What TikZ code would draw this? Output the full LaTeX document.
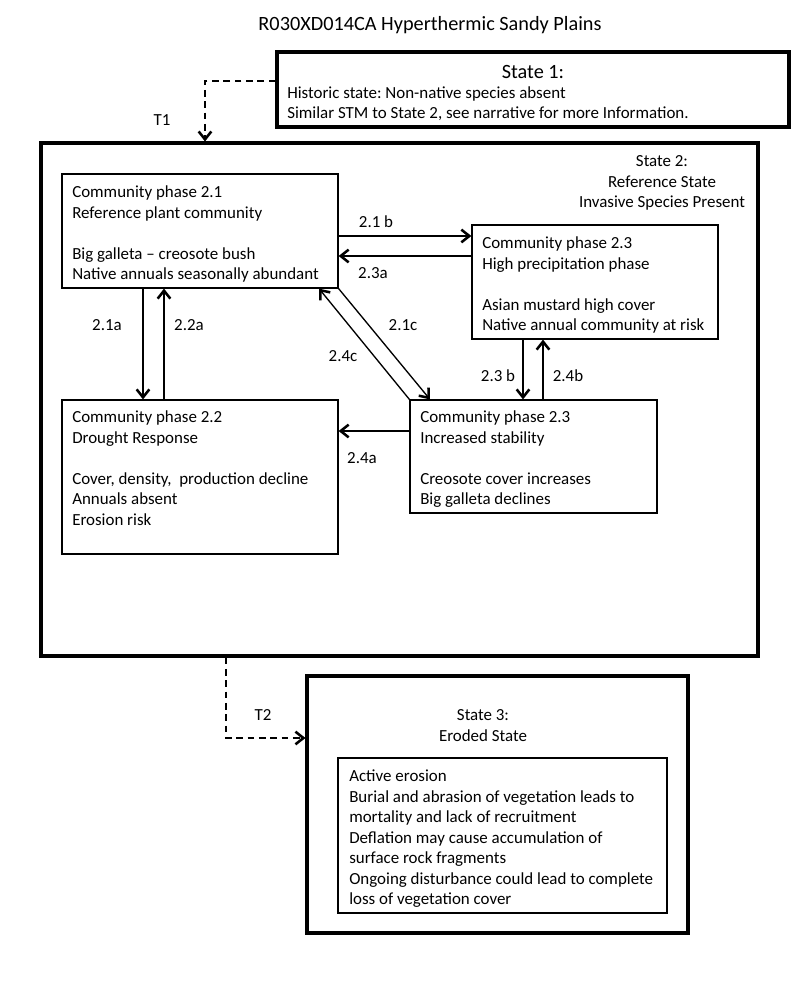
\documentclass[tikz,border=0pt]{standalone}
\usepackage{fontspec}
\setmainfont{Carlito}
\usetikzlibrary{arrows.meta,fit}
\frenchspacing
\begin{document}
\begin{tikzpicture}[x=0.75pt,y=-0.75pt,
  body/.style={font=\fontsize{12.7}{15.4}\selectfont, inner sep=0pt, align=left, anchor=base west},
  ctr/.style={font=\fontsize{12.7}{15.4}\selectfont, inner sep=0pt, align=center, anchor=base},
  lbl/.style={font=\fontsize{12.7}{15.4}\selectfont, inner sep=0pt},
  big/.style={font=\fontsize{15.2}{18}\selectfont, inner sep=0pt, anchor=base},
  statebox/.style={draw, line width=2.3pt, inner sep=0pt},
  phasebox/.style={draw, line width=0.9pt, inner sep=0pt},
  arr/.style={line width=1pt, -{Straight Barb[length=6pt,width=9.5pt,line width=1.9pt]}},
  dasharr/.style={line width=1pt, dash pattern=on 5pt off 3.5pt, -{Straight Barb[length=6pt,width=9.5pt,line width=1.9pt]}}
]
\useasboundingbox[fill=white] (0,0) rectangle (800,984);

\node[big] (title) at (430,30.5) {R030XD014CA Hyperthermic Sandy Plains};

% State 1 (multi-line nodes are anchored at the baseline of their last line)
\node[statebox, fit={(277,52) (789,127)}] (s1) {};
\node[big] (s1t) at (533,78.5) {State 1:};
\node[body] (s1b) at (287,119) {Historic state: Non-native species absent\\Similar STM to State 2, see narrative for more Information.};

% State 2
\node[statebox, fit={(41,143) (758,656)}] (s2) {};
\node[ctr] (s2t) at (662,208) {State 2:\\Reference State\\Invasive Species Present};

% phase boxes
\node[phasebox, fit={(62,174) (338,288)}] (b21) {};
\node[body] (b21t) at (72,279.6) {Community phase 2.1\\Reference plant community\\[15.4pt]Big galleta -- creosote bush\\Native annuals seasonally abundant};

\node[phasebox, fit={(472,225) (718,339)}] (b23h) {};
\node[body] (b23ht) at (482,330.6) {Community phase 2.3\\High precipitation phase\\[15.4pt]Asian mustard high cover\\Native annual community at risk};

\node[phasebox, fit={(62,400) (338,554)}] (b22) {};
\node[body] (b22t) at (72,525.2) {Community phase 2.2\\Drought Response\\[15.4pt]Cover, density,\ \ production decline\\Annuals absent\\Erosion risk};

\node[phasebox, fit={(410,400) (657,513)}] (b23s) {};
\node[body] (b23st) at (420,504.6) {Community phase 2.3\\Increased stability\\[15.4pt]Creosote cover increases\\Big galleta declines};

% State 3
\node[statebox, fit={(307,676) (688,933)}] (s3) {};
\node[ctr] (s3t) at (483,741) {State 3:\\Eroded State};
\node[phasebox, fit={(338,758) (667,913)}] (s3i) {};
\node[body] (s3it) at (349,904.7) {Active erosion\\Burial and abrasion of vegetation leads to\\mortality and lack of recruitment\\Deflation may cause accumulation of\\surface rock fragments\\Ongoing disturbance could lead to complete\\loss of vegetation cover};

% transitions
\coordinate (t1c) at (205,81);
\draw[dasharr] (s1.west |- t1c) -- (t1c) -- (s2.north -| t1c);
\node[lbl] (t1l) at (162,120) {T1};

\coordinate (t2c) at (226,738);
\draw[dasharr] (s2.south -| t2c) -- (t2c) -- (s3.west |- t2c);
\node[lbl] (t2l) at (263,715) {T2};

% community pathways
\draw[arr] (b21.east |- 0,236) -- (b23h.west |- 0,236);
\node[lbl] (l21b) at (376,222) {2.1 b};
\draw[arr] (b23h.west |- 0,256) -- (b21.east |- 0,256);
\node[lbl] (l23a) at (373,273) {2.3a};

\draw[arr] (b21.south -| 143,0) -- (b22.north -| 143,0);
\node[lbl] (l21a) at (107,325) {2.1a};
\draw[arr] (b22.north -| 164,0) -- (b21.south -| 164,0);
\node[lbl] (l22a) at (189,325) {2.2a};

\draw[arr] (b21.south east) -- (b23s.north -| 430,0);
\node[lbl] (l21c) at (403,325) {2.1c};
\draw[arr] (b23s.north west) -- (b21.south -| 319,0);
\node[lbl] (l24c) at (343,356) {2.4c};

\draw[arr] (b23h.south -| 523,0) -- (b23s.north -| 523,0);
\node[lbl] (l23b) at (498,376) {2.3 b};
\draw[arr] (b23s.north -| 543,0) -- (b23h.south -| 543,0);
\node[lbl] (l24b) at (568,376) {2.4b};

\draw[arr] (b23s.west |- 0,431) -- (b22.east |- 0,431);
\node[lbl] (l24a) at (362,458) {2.4a};
\end{tikzpicture}
\end{document}
